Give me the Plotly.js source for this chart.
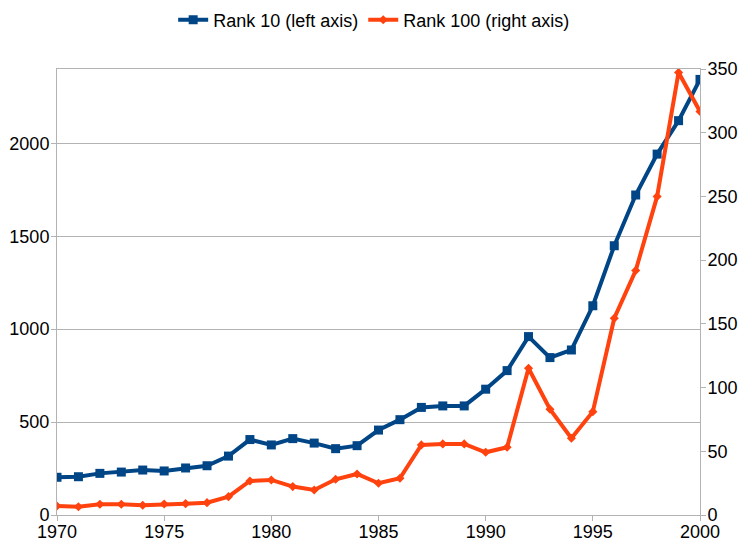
<!DOCTYPE html>
<html>
<head>
<meta charset="utf-8">
<script src="https://cdn.plot.ly/plotly-3.0.1.min.js"></script>
<style>html,body{margin:0;padding:0;background:#fff;}#chart{width:738px;height:541px;}</style>
</head>
<body>
<div id="chart"></div>
<script>
const years = [1970,1971,1972,1973,1974,1975,1976,1977,1978,1979,1980,1981,1982,1983,1984,1985,1986,1987,1988,1989,1990,1991,1992,1993,1994,1995,1996,1997,1998,1999,2000];
const rank10 = [203,206,224,231,242,237,253,265,317,406,377,411,387,357,373,457,513,579,587,587,677,777,960,847,888,1126,1449,1722,1942,2122,2344];
const rank100 = [7.1,6.5,8.4,8.4,7.6,8.6,8.9,9.7,14.4,26.7,27.5,22.3,19.6,28,32.2,24.9,28.8,55,55.8,55.8,49.2,53.2,115.2,83,60.2,81.1,154.4,191.9,250,347.3,316.7];
const seriesNames = ["Rank 10 (left axis)", "Rank 100 (right axis)"];
const xTicks = [1970,1975,1980,1985,1990,1995,2000];

const gray = "#b3b3b3";
const font = {family: "Liberation Sans, Arial, sans-serif", size: 18, color: "#000"};

const traces = [
  {x: years, y: rank10, name: seriesNames[0], type: "scatter", mode: "lines+markers",
   line: {color: "#004586", width: 4}, marker: {symbol: "square", size: 9, color: "#004586"}, yaxis: "y"},
  {x: years, y: rank100, name: seriesNames[1], type: "scatter", mode: "lines+markers",
   line: {color: "#ff420e", width: 4}, marker: {symbol: "diamond", size: 7, color: "#ff420e"}, yaxis: "y2"}
];

const layout = {
  width: 738, height: 541,
  margin: {l: 57, r: 38, t: 69, b: 26, autoexpand: false},
  paper_bgcolor: "#fff", plot_bgcolor: "#fff",
  font: font,
  showlegend: true,
  legend: {orientation: "h", x: 0.507, xanchor: "center", xref: "container", y: 0.963, yref: "container", yanchor: "middle",
           font: {family: font.family, size: 18}, itemwidth: 30, tracegroupgap: 0},
  xaxis: {range: [1970, 2000], tickvals: xTicks, ticktext: xTicks.map(String), showgrid: false,
          showline: true, linecolor: gray, linewidth: 1, mirror: true, ticks: "outside", ticklen: 5, tickcolor: gray,
          zeroline: false, tickfont: font, ticklabelstandoff: -5, automargin: false},
  yaxis: {range: [0, 2400], dtick: 500, tick0: 0, showgrid: true, gridcolor: gray, gridwidth: 1,
          showline: true, linecolor: gray, ticks: "outside", ticklen: 5, tickcolor: gray, zeroline: false, tickfont: font,
          ticklabelstandoff: -2, automargin: false},
  yaxis2: {range: [0, 350], dtick: 50, tick0: 0, overlaying: "y", side: "right", showgrid: false,
           showline: true, linecolor: gray, ticks: "outside", ticklen: 5, tickcolor: gray, zeroline: false, tickfont: font,
           ticklabelstandoff: -2, automargin: false}
};

Plotly.newPlot("chart", traces, layout, {displayModeBar: false, staticPlot: true});
</script>
</body>
</html>
